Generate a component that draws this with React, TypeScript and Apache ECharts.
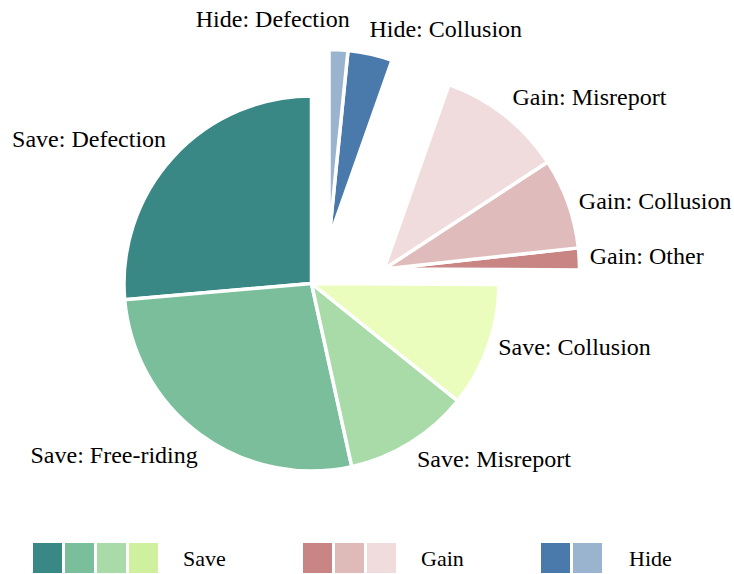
import React, { useEffect, useRef } from "react";
import * as echarts from "echarts";

// ---- data ----
const sliceNames = [
  "Save: Defection",
  "Save: Free-riding",
  "Save: Misreport",
  "Save: Collusion",
  "Gain: Other",
  "Gain: Collusion",
  "Gain: Misreport",
  "Hide: Collusion",
  "Hide: Defection",
];
const sliceValues = [26.4, 27.1, 10.8, 10.7, 1.8, 7.5, 10.4, 3.8, 1.6];
const sliceGroups = ["Save", "Save", "Save", "Save", "Gain", "Gain", "Gain", "Hide", "Hide"];
const legendGroups = ["Save", "Gain", "Hide"];

// ---- styles ----
const sliceColors = [
  "#3a8886",
  "#7bbe9b",
  "#a8dba8",
  "#eafdbd",
  "#c98484",
  "#e0bbbb",
  "#f0dcdd",
  "#4a7aab",
  "#9ab4cf",
];
const legendColors: Record<string, string[]> = {
  Save: ["#3a8886", "#7bbe9b", "#a8dba8", "#cff09e"],
  Gain: ["#c98484", "#e0b9b9", "#f0dcdd"],
  Hide: ["#4a7aab", "#9ab4cf"],
};

// ---- layout ----
const groupLayout: Record<string, { center: number[]; radius: number; labelLen: number }> = {
  Save: { center: [311.5, 283.5], radius: 187.5, labelLen: 18 },
  Gain: { center: [384, 269], radius: 195.5, labelLen: 12.5 },
  Hide: { center: [329, 239], radius: 189.5, labelLen: 23.5 },
};
// small label nudges (pixels) per slice index
const labelNudge: number[][] = [
  [6, -6],
  [8, 6],
  [-3, 1],
  [-7, -5],
  [-2, -2],
  [-1, 2],
  [0, -8],
  [-6, -2],
  [0, -7],
];
const legendLayout: Record<string, { swatchX: number; textX: number }> = {
  Save: { swatchX: 33, textX: 183 },
  Gain: { swatchX: 303, textX: 421 },
  Hide: { swatchX: 541, textX: 629 },
};
const FONT = "'Liberation Serif', 'Times New Roman', serif";

export default function App() {
  const ref = useRef<HTMLDivElement>(null);

  useEffect(() => {
    if (!ref.current) return;
    const chart = echarts.init(ref.current, undefined, { renderer: "svg" });

    const series = legendGroups.map((g) => {
      const lay = groupLayout[g];
      return {
        type: "pie",
        name: g,
        center: lay.center,
        radius: lay.radius,
        startAngle: 90,
        clockwise: false,
        avoidLabelOverlap: false,
        silent: true,
        emphasis: { disabled: true },
        label: {
          show: true,
          position: "outside",
          fontFamily: FONT,
          fontSize: 24,
          color: "#000",
          overflow: "none",
          distanceToLabelLine: 0,
          bleedMargin: 0,
        },
        labelLine: { show: false, length: lay.labelLen, length2: 0 },
        labelLayout: (p: any) => {
          const i = p.dataIndex;
          if (sliceGroups[i] !== g) return {};
          let dx = labelNudge[i][0];
          if (i === 8) dx += -p.labelRect.width + 10;
          return { dx, dy: labelNudge[i][1] };
        },
        data: sliceNames.map((n, i) =>
          sliceGroups[i] === g
            ? {
                name: n,
                value: sliceValues[i],
                itemStyle: { color: sliceColors[i], borderColor: "#fff", borderWidth: 3.5 },
              }
            : {
                name: n,
                value: sliceValues[i],
                itemStyle: { color: "transparent", borderWidth: 0 },
                label: { show: false },
                labelLine: { show: false },
              }
        ),
      };
    });

    const graphics: any[] = [];
    legendGroups.forEach((g) => {
      const ll = legendLayout[g];
      legendColors[g].forEach((c, k) => {
        graphics.push({
          type: "rect",
          left: ll.swatchX + k * 32,
          top: 543,
          shape: { width: 29, height: 30 },
          style: { fill: c },
          silent: true,
        });
      });
      graphics.push({
        type: "text",
        x: ll.textX,
        y: 558,
        style: {
          text: g,
          font: `22px ${FONT}`,
          fill: "#000",
          verticalAlign: "middle",
        },
        silent: true,
      });
    });

    chart.setOption({
      animation: false,
      backgroundColor: "#fff",
      series,
      graphic: graphics,
    });
    return () => chart.dispose();
  }, []);

  return (
    <div
      ref={ref}
      style={{ position: "absolute", left: 0, top: 0, width: 734, height: 574 }}
    />
  );
}
